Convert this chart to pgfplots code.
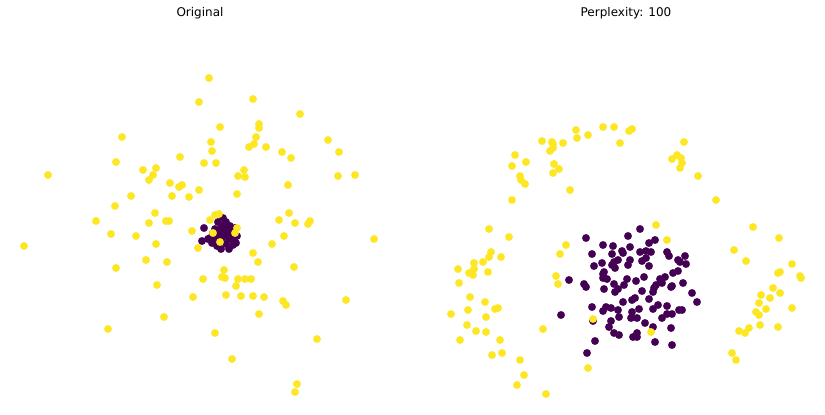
\documentclass[border=0pt]{standalone}
\usepackage{fontspec}
\setmainfont{DejaVu Sans}
\usepackage{pgfplots}
\pgfplotsset{compat=1.18}
\definecolor{vyellow}{HTML}{FDE725}
\definecolor{vpurple}{HTML}{440154}
\begin{document}
\begin{tikzpicture}[x=1pt,y=1pt]
% positions in its pixel grid (y down)
\pgfplotsset{
  panel/.style={
    scale only axis, hide axis, clip=false,
    height=380pt, ymin=25, ymax=405, y dir=reverse,
    title style={font=\fontsize{12}{14}\selectfont, yshift=-4pt},
  },
  dots/.style={only marks, mark=*, mark size=3.7pt},
}
\path[use as bounding box] (0,0) rectangle (825,415);

\begin{axis}[panel, at={(5pt,10pt)}, anchor=south west, width=390pt,
  xmin=5, xmax=395, title={Original}]
\addplot[dots, vpurple, mark options={fill=vpurple, draw=vpurple}] coordinates {
(223,218) (218,222) (226,222) (230,226) (222,226) (215,229) (235,228)
(213,233) (219,233) (226,232) (232,234) (237,236) (216,238) (222,238)
(229,239) (234,240) (212,243) (219,243) (226,244) (233,245) (221,249)
(229,249) (204,228) (202,241) (208,239) (225,228) (220,230) (228,236)
(215,235) (231,230) (224,235) (217,246) (236,243) (210,238)
};
\addplot[dots, vyellow, mark options={fill=vyellow, draw=vyellow}] coordinates {
(199,102) (122,137) (180,157) (116,162) (48,175) (143,170) (156,168)
(153,175) (149,180) (170,183) (179,187) (182,185) (199,190) (131,196)
(172,196) (189,197) (115,206) (155,213) (96,221) (149,223) (166,221)
(169,221) (209,78) (253,99) (300,114) (259,124) (259,128) (220,127)
(256,137) (211,142) (212,151) (254,144) (249,147) (266,147) (282,152)
(291,158) (328,140) (339,152) (338,176) (355,175) (204,163) (216,163)
(244,170) (238,176) (245,177) (288,185) (237,194) (289,213) (279,220)
(295,223) (308,224) (310,221) (215,215) (219,214) (210,220) (237,228)
(192,231) (111,234) (136,236) (24,246) (156,244) (198,248) (146,260)
(167,262) (116,268) (157,285) (193,297) (164,317) (108,329) (213,233)
(235,233) (220,242) (284,236) (272,244) (374,239) (253,253) (258,262)
(294,267) (224,270) (203,279) (222,277) (225,278) (238,279) (245,279)
(251,279) (236,286) (226,295) (241,296) (253,296) (264,297) (283,301)
(286,305) (346,300) (259,314) (215,333) (317,339) (232,359) (297,384)
(295,392)
};
\end{axis}

\begin{axis}[panel, at={(432pt,10pt)}, anchor=south west, width=388pt,
  xmin=432, xmax=820, title={Perplexity: 100}]
\addplot[dots, vpurple, mark options={fill=vpurple, draw=vpurple}] coordinates {
(640,229) (586,238) (628,236) (655,240) (603,245) (613,246) (630,247)
(649,243) (592,254) (612,254) (622,251) (623,253) (640,252) (646,251)
(651,252) (667,252) (669,256) (685,256) (618,260) (614,262) (612,265)
(602,263) (630,260) (642,261) (646,258) (678,260) (680,262) (686,264)
(594,266) (615,268) (628,265) (649,266) (604,272) (603,274) (673,273)
(678,271) (569,280) (603,278) (607,279) (627,279) (644,277) (636,281)
(660,279) (665,277) (584,284) (586,287) (614,284) (624,285) (656,285)
(662,283) (672,286) (683,283) (604,289) (618,289) (654,288) (615,292)
(642,291) (671,287) (692,293) (697,302) (623,302) (632,300) (635,298)
(649,299) (653,292) (592,307) (603,311) (606,307) (611,308) (618,310)
(632,312) (639,309) (653,309) (658,305) (667,306) (679,310) (682,310)
(561,315) (619,317) (631,318) (637,318) (667,314) (672,314) (662,318)
(593,321) (611,321) (645,323) (609,327) (653,327) (671,328) (614,333)
(619,335) (633,337) (637,333) (637,337) (595,341) (655,342) (672,345)
(587,353)
};
\addplot[dots, vyellow, mark options={fill=vyellow, draw=vyellow}] coordinates {
(576,130) (603,127) (614,127) (629,131) (632,129) (577,138) (588,135)
(542,141) (552,142) (553,144) (553,148) (550,151) (563,143) (620,143)
(515,155) (512,166) (526,162) (554,164) (559,169) (553,173) (520,176)
(521,180) (525,184) (570,190) (512,200) (489,229) (509,237) (566,245)
(560,254) (491,252) (489,257) (501,257) (474,263) (483,262) (684,142)
(672,159) (677,155) (681,158) (682,163) (680,168) (698,176) (716,200)
(656,225) (667,240) (753,227) (779,238) (734,250) (746,261) (792,264)
(458,269) (474,269) (469,273) (473,275) (488,272) (459,283) (556,276)
(558,284) (470,297) (485,302) (468,310) (495,309) (498,308) (451,314)
(486,317) (467,325) (476,331) (486,332) (460,340) (500,340) (543,329)
(492,355) (502,353) (520,360) (524,375) (517,385) (546,394) (593,319)
(588,368) (778,273) (780,272) (800,276) (801,278) (773,288) (780,293)
(761,295) (770,298) (759,303) (766,309) (792,308) (756,312) (759,315)
(760,325) (778,327) (739,331) (745,333) (749,328) (732,353) (736,360)
(651,332)
};
\end{axis}
\end{tikzpicture}
\end{document}
